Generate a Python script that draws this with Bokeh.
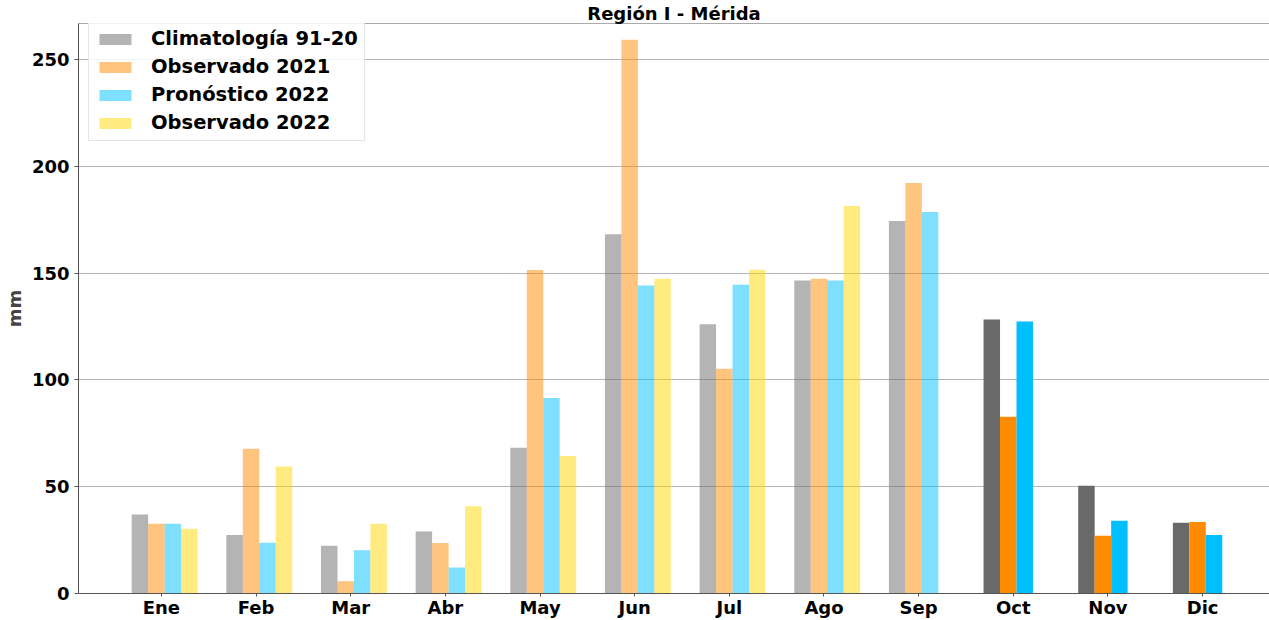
from bokeh.plotting import figure
from bokeh.models import (FixedTicker, Range1d, Legend, LegendItem, Span)
from bokeh.embed import file_html
from bokeh.resources import INLINE

# ---- data ----
months = ["Ene", "Feb", "Mar", "Abr", "May", "Jun", "Jul", "Ago", "Sep", "Oct", "Nov", "Dic"]
climatologia = [37.0, 27.4, 22.3, 29.0, 68.2, 168.2, 126.1, 146.5, 174.4, 128.3, 50.5, 33.1]
observado_2021 = [32.7, 67.8, 5.7, 23.6, 151.5, 259.2, 105.2, 147.3, 192.2, 82.7, 27.0, 33.5]
pronostico_2022 = [32.7, 23.8, 20.3, 12.2, 91.5, 144.2, 144.5, 146.5, 178.6, 127.3, 34.1, 27.4]
observado_2022 = [30.3, 59.5, 32.7, 40.8, 64.4, 147.3, 151.6, 181.4]
series_names = ["Climatología 91-20", "Observado 2021", "Pronóstico 2022", "Observado 2022"]
y_ticks = [0, 50, 100, 150, 200, 250]
title_text = "Región I - Mérida"
y_label = "mm"
n_past = 9  # months drawn translucent (Ene..Sep)

# ---- style ----
colors = ["#696969", "#ff8c00", "#00bfff", "#ffd700"]
FONT = "DejaVu Sans"
AX = "#555555"
bar_w = 0.174
first_off = -0.227
TOP_EST = 23
BOTTOM_EST = 593
scale = (BOTTOM_EST - 59) / 250.0
y_top = 250 + (59 - TOP_EST) / scale

p = figure(width=1269, height=620, output_backend="svg", toolbar_location=None,
           x_range=Range1d(-0.876, 11.707), y_range=Range1d(0, y_top),
           min_border_left=77, min_border_right=0, min_border_top=0, min_border_bottom=0,
           background_fill_color="white", border_fill_color="white")
p.outline_line_color = None

p.title.text = title_text
p.title.align = "center"
p.title.text_font = FONT
p.title.text_font_style = "bold"
p.title.text_font_size = "18px"
p.title.text_color = "black"
p.title.standoff = 0
p.title.offset = 4

series = [climatologia, observado_2021, pronostico_2022, observado_2022]
legend_items = []
for k, (vals, col, name) in enumerate(zip(series, colors, series_names)):
    xs = [i + first_off + k * bar_w for i in range(len(vals))]
    lx = [x for i, x in enumerate(xs) if i < n_past]
    lt = [v for i, v in enumerate(vals) if i < n_past]
    r = p.vbar(x=lx, top=lt, bottom=0, width=bar_w, fill_color=col, fill_alpha=0.5,
               line_color=col, line_alpha=0.0)
    legend_items.append(LegendItem(label=name, renderers=[r]))
    dx = [x for i, x in enumerate(xs) if i >= n_past]
    dt = [v for i, v in enumerate(vals) if i >= n_past]
    if dx:
        p.vbar(x=dx, top=dt, bottom=0, width=bar_w, fill_color=col, fill_alpha=1.0,
               line_color=col, line_alpha=0.0)

legend = Legend(items=legend_items, location=(10, BOTTOM_EST - 141))
legend.label_text_font = FONT
legend.label_text_font_style = "bold"
legend.label_text_font_size = "19.5px"
legend.label_text_color = "black"
legend.glyph_width = 40
legend.glyph_height = 14
legend.label_standoff = 16
legend.label_height = 22
legend.spacing = 5
legend.padding = 6
legend.margin = 0
legend.border_line_color = "#cccccc"
legend.border_line_width = 1
legend.background_fill_alpha = 0.85
p.add_layout(legend)

# axes
p.xaxis.ticker = FixedTicker(ticks=list(range(len(months))))
p.xaxis.major_label_overrides = {i: m for i, m in enumerate(months)}
p.yaxis.ticker = FixedTicker(ticks=y_ticks)
for ax in (p.xaxis[0], p.yaxis[0]):
    ax.axis_line_color = AX
    ax.major_tick_line_color = AX
    ax.major_tick_out = 4
    ax.major_tick_in = 0
    ax.minor_tick_line_color = None
    ax.major_label_text_font = FONT
    ax.major_label_text_font_style = "bold"
    ax.major_label_text_color = "black"
p.xaxis.major_tick_out = 3
p.xaxis.major_label_text_font_size = "18px"
p.xaxis.major_label_standoff = 0
p.xaxis.axis_label = None
p.xaxis.axis_label_standoff = 0
p.yaxis.major_label_text_font_size = "18px"
p.yaxis.major_label_standoff = 5
p.yaxis.axis_label = y_label
p.yaxis.axis_label_text_font = FONT
p.yaxis.axis_label_text_font_style = "bold"
p.yaxis.axis_label_text_font_size = "18px"
p.yaxis.axis_label_standoff = 4

p.xgrid.visible = False
p.ygrid.grid_line_color = "#b5b5b5"
p.ygrid.grid_line_width = 1

# top spine
p.add_layout(Span(location=y_top, dimension="width", line_color=AX, line_width=1))

open("out.html", "w").write(file_html(p, INLINE))
